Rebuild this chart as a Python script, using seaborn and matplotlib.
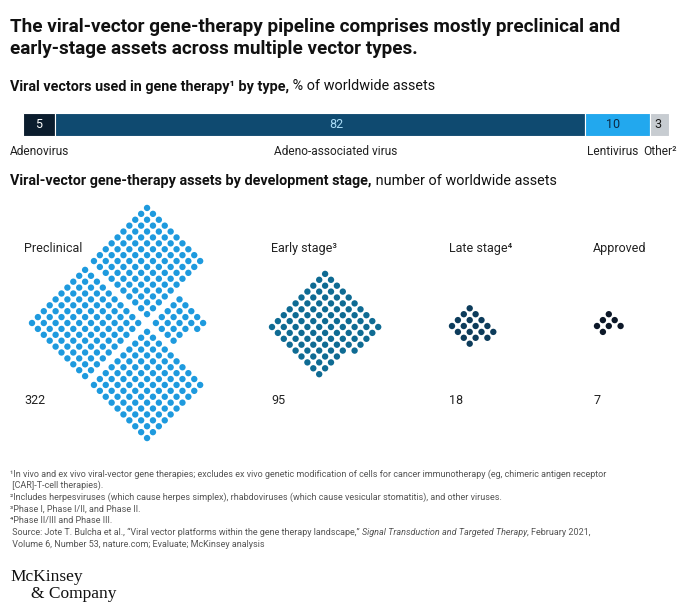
import numpy as np
import pandas as pd
import matplotlib
matplotlib.use("Agg")
import matplotlib.pyplot as plt
import seaborn as sns

# ---- values ----
vector_names = ["Adenovirus", "Adeno-associated virus", "Lentivirus", "Other²"]
vector_pct = [5, 82, 10, 3]
vector_colors = ["#0b1d2e", "#0f4a70", "#22a8ee", "#c7ccd1"]
pct_text_colors = ["#ffffff", "#a9dcf7", "#0b2a45", "#1a1a1a"]

stage_names = ["Preclinical", "Early stage³", "Late stage⁴", "Approved"]
stage_assets = [322, 95, 18, 7]
stage_colors = ["#1e9ade", "#0f6b93", "#0d3c5b", "#0c1828"]

footnotes = [
    "¹In vivo and ex vivo viral-vector gene therapies; excludes ex vivo genetic modification of cells for cancer immunotherapy (eg, chimeric antigen receptor",
    " [CAR]-T-cell therapies).",
    "²Includes herpesviruses (which cause herpes simplex), rhabdoviruses (which cause vesicular stomatitis), and other viruses.",
    "³Phase I, Phase I/II, and Phase II.",
    "⁴Phase II/III and Phase III.",
]
source_runs = [
    (" Source: Jote T. Bulcha et al., \u201cViral vector platforms within the gene therapy landscape,\u201d ", "normal"),
    ("Signal Transduction and Targeted Therapy", "italic"),
    (", February 2021,", "normal"),
]
source_line2 = " Volume 6, Number 53, nature.com; Evaluate; McKinsey analysis"

# ---- layout (pixels, from the top-left corner) ----
W, H = 690, 614
STEP = 5.9          # px between neighbouring dot columns / rows
BLOCK = 100         # dots in one full diamond
SHIFT = 10.5        # block-to-block offset in lattice steps
stage_x = [24, 271, 449, 593]
stage_anchor = [(32, 323), (272, 327), (452, 326), (597, 326)]
name_px = [10, 336, 587, 643]
name_ha = ["left", "center", "left", "left"]
pct_px = [39, 336, 613, 658]

sns.set_theme(style="white")
plt.rcParams["font.family"] = ["Roboto", "DejaVu Sans"]

fig = plt.figure(figsize=(W / 100, H / 100), dpi=100)
renderer = fig.canvas.get_renderer()


def put(x, y, s, size, weight="normal", color="#111111", ha="left", style="normal", va="baseline", family=None):
    kw = {} if family is None else {"family": family}
    return fig.text(x / W, 1 - y / H, s, fontsize=size, fontweight=weight, color=color,
                    ha=ha, va=va, style=style, **kw)


def put_runs(x, y, runs, size, color="#111111"):
    for s, weight, style in runs:
        t = put(x, y, s, size, weight=weight, style=style, color=color)
        x += t.get_window_extent(renderer).width


# diamond of n dots, rows of k along u; a short last row sits at the far end
def diamond(n, k):
    pts = []
    for v in range(-(-n // k)):
        m = min(k, n - v * k)
        for u in range(k - m, k):
            pts.append((u, v))
    return pts


def stage_layout(n):
    offsets = [(0, 0), (SHIFT, 0), (0, SHIFT), (SHIFT, SHIFT)]
    pts, b = [], 0
    while n > 0:
        take = min(n, BLOCK)
        k = int(round(np.sqrt(take)))
        ou, ov = offsets[b]
        pts += [(u + ou, v + ov) for u, v in diamond(take, k)]
        n -= take
        b += 1
    return pts


rows = []
for name, n, (x0, y0) in zip(stage_names, stage_assets, stage_anchor):
    for u, v in stage_layout(n):
        rows.append({"stage": name, "x": x0 + STEP * (u + v), "y": y0 - STEP * (u - v)})
dots = pd.DataFrame(rows)

# ---- dots ----
ax_dots = fig.add_axes([0, 0, 1, 1])
sns.scatterplot(data=dots, x="x", y="y", hue="stage", palette=dict(zip(stage_names, stage_colors)),
                s=21, linewidth=0, legend=False, ax=ax_dots)
ax_dots.set_xlim(0, W)
ax_dots.set_ylim(H, 0)
ax_dots.axis("off")

# ---- stacked bar ----
ax_bar = fig.add_axes([23 / W, 1 - 136 / H, 646 / W, 23 / H])
left = np.cumsum([0] + vector_pct[:-1])
ax_bar.barh(0, vector_pct, left=left, height=1, color=vector_colors, edgecolor="white", linewidth=0.8)
ax_bar.set_xlim(0, sum(vector_pct))
ax_bar.set_ylim(-0.5, 0.5)
ax_bar.axis("off")

for p, x, c in zip(vector_pct, pct_px, pct_text_colors):
    put(x, 124.5, str(p), 9, color=c, ha="center", va="center")
for name, x, ha in zip(vector_names, name_px, name_ha):
    put(x, 155, name, 8.6, ha=ha, color="#222222")

# ---- titles ----
put(10, 31.5, "The viral-vector gene-therapy pipeline comprises mostly preclinical and", 13.6, weight="bold")
put(10, 54.5, "early-stage assets across multiple vector types.", 13.6, weight="bold")
put_runs(10, 90.5, [("Viral vectors used in gene therapy¹ by type,", "bold", "normal"),
                    (" % of worldwide assets", "normal", "normal")], 10.4)
put_runs(10, 185, [("Viral-vector gene-therapy assets by development stage,", "bold", "normal"),
                   (" number of worldwide assets", "normal", "normal")], 10.4)

# ---- stage labels and totals ----
for name, n, x in zip(stage_names, stage_assets, stage_x):
    put(x, 252, name, 9, color="#222222")
    put(x, 404, str(n), 9, color="#222222")

# ---- footnotes ----
fn_y = [477, 488, 500, 512, 523]
for s, y in zip(footnotes, fn_y):
    put(10, y, s, 6.44, color="#555555")
put_runs(10, 535, [(s, "normal", st) for s, st in source_runs], 6.44, color="#555555")
put(10, 547, source_line2, 6.44, color="#555555")

# ---- logo ----
put(10, 581, "McKinsey", 12.5, color="#111111", family=["Liberation Serif", "DejaVu Serif"])
put(31, 598, "& Company", 12.5, color="#111111", family=["Liberation Serif", "DejaVu Serif"])

fig.savefig("out.png", dpi=100)
